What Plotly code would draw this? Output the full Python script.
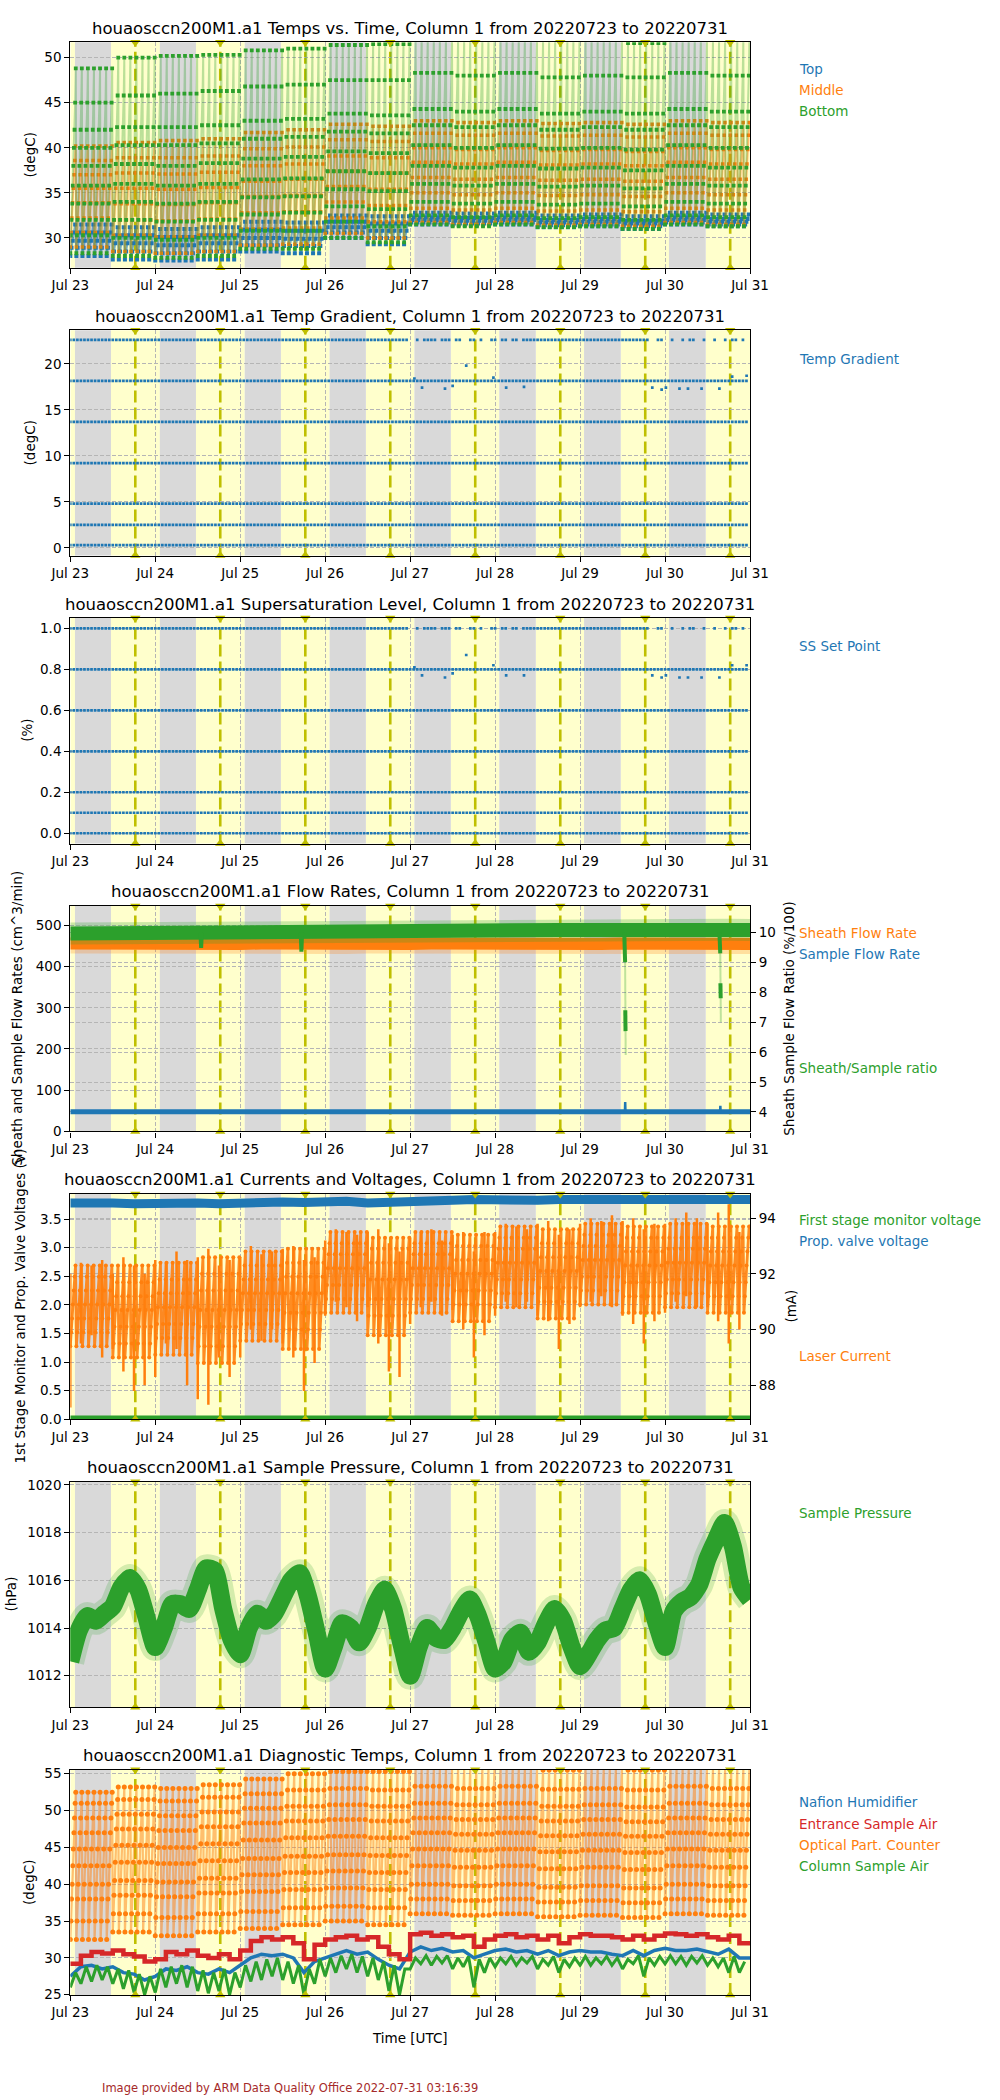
import numpy as np
import plotly.graph_objects as go

FONT = "DejaVu Sans"
W, H = 1000, 2100

# ---------------- shared time axis (days since 2022-07-23 00 UTC) ----------------
day_ticks = [0, 1, 2, 3, 4, 5, 6, 7, 8]
day_labels = ["Jul 23", "Jul 24", "Jul 25", "Jul 26", "Jul 27",
              "Jul 28", "Jul 29", "Jul 30", "Jul 31"]
night_start = [0.055, 1.054, 2.053, 3.052, 4.050, 5.049, 6.047, 7.046]
night_end = [0.479, 1.479, 2.479, 3.479, 4.479, 5.479, 6.479, 7.479]
solar_noon = [0.765, 1.765, 2.766, 3.766, 4.766, 5.767, 6.767, 7.767]

# ---------------- panel 1: column temps, plateau levels per half day ----------------
cycles_per_halfday = 7
p1_top_levels = [
    [28.0, 28.9, 29.7, 30.6, 31.5], [27.6, 28.5, 29.4, 30.3, 31.2],
    [27.5, 28.3, 29.2, 30.1, 31.0], [27.6, 28.5, 29.4, 30.3, 31.2],
    [28.5, 29.2, 30.0, 30.9, 31.8], [28.3, 29.1, 29.9, 30.8, 31.7],
    [30.0, 30.6, 31.2, 31.8, 32.5], [29.3, 30.0, 30.8, 31.6, 32.4],
    [31.5, 31.7, 32.0, 32.3, 32.8], [31.4, 31.6, 31.9, 32.2, 32.7],
    [31.5, 31.7, 32.0, 32.3, 32.8], [31.2, 31.4, 31.7, 32.0, 32.5],
    [31.3, 31.5, 31.8, 32.1, 32.6], [31.0, 31.3, 31.6, 31.9, 32.4],
    [31.5, 31.7, 32.0, 32.3, 32.8], [31.3, 31.5, 31.8, 32.1, 32.6],
]
p1_middle_levels = [
    [29.0, 30.6, 32.2, 33.9, 35.5, 37.0, 38.6, 40.2], [28.5, 30.3, 32.0, 33.8, 35.5, 37.2, 38.9, 40.6],
    [28.3, 30.1, 31.9, 33.7, 35.4, 37.1, 38.9, 40.8], [28.5, 30.3, 32.1, 33.9, 35.6, 37.3, 39.1, 41.0],
    [29.2, 31.0, 32.8, 34.6, 36.3, 38.0, 39.9, 41.7], [29.3, 31.1, 32.9, 34.7, 36.5, 38.2, 40.1, 42.0],
    [30.5, 32.2, 34.0, 35.7, 37.4, 39.1, 40.9, 42.6], [30.0, 31.8, 33.6, 35.4, 37.2, 38.9, 40.7, 42.4],
    [31.7, 33.3, 35.0, 36.7, 38.4, 40.0, 41.6, 43.0], [31.5, 33.1, 34.8, 36.5, 38.2, 39.8, 41.4, 42.8],
    [31.7, 33.3, 35.0, 36.7, 38.4, 40.0, 41.6, 43.0], [31.4, 33.0, 34.7, 36.4, 38.1, 39.7, 41.3, 42.7],
    [31.5, 33.1, 34.8, 36.5, 38.2, 39.8, 41.4, 42.8], [31.3, 32.9, 34.6, 36.3, 38.0, 39.6, 41.2, 42.6],
    [31.7, 33.3, 35.0, 36.7, 38.4, 40.0, 41.6, 43.0], [31.5, 33.1, 34.8, 36.5, 38.2, 39.8, 41.4, 42.8],
]
p1_bottom_levels = [
    [28.3, 30.3, 32.0, 33.8, 35.8, 38.0, 40.0, 42.0, 45.0, 48.8],
    [28.0, 30.0, 32.0, 34.0, 36.0, 38.2, 40.3, 42.3, 45.8, 50.0],
    [27.8, 29.8, 31.8, 33.8, 35.8, 38.0, 40.3, 42.3, 46.0, 50.2],
    [28.0, 30.0, 32.0, 34.0, 36.0, 38.3, 40.5, 42.5, 46.3, 50.3],
    [28.8, 30.8, 32.6, 34.5, 36.5, 38.8, 41.0, 43.0, 46.8, 50.8],
    [28.8, 30.8, 32.8, 34.6, 36.6, 39.0, 41.2, 43.2, 47.0, 51.0],
    [30.0, 31.8, 33.5, 35.4, 37.4, 39.6, 41.8, 43.8, 47.5, 51.4],
    [29.5, 31.3, 33.2, 35.2, 37.2, 39.4, 41.6, 43.6, 47.5, 51.5],
    [31.5, 32.5, 34.0, 36.0, 38.0, 40.3, 42.5, 44.3, 48.3, 52.0],
    [31.3, 32.3, 33.8, 35.8, 37.8, 40.0, 42.3, 44.0, 48.0, 52.0],
    [31.5, 32.5, 34.0, 36.0, 38.0, 40.3, 42.5, 44.3, 48.3, 52.0],
    [31.2, 32.2, 33.7, 35.7, 37.7, 39.9, 42.0, 43.8, 47.8, 51.8],
    [31.3, 32.3, 33.8, 35.8, 37.8, 40.0, 42.3, 44.0, 48.0, 51.8],
    [31.0, 32.0, 33.5, 35.5, 37.5, 39.8, 42.0, 43.8, 47.8, 51.6],
    [31.5, 32.5, 34.0, 36.0, 38.0, 40.3, 42.5, 44.3, 48.3, 52.0],
    [31.3, 32.3, 33.8, 35.8, 37.8, 40.0, 42.3, 44.0, 48.0, 51.8],
]

# ---------------- panel 2: temperature gradient set points ----------------
tg_levels = [0.3, 2.5, 4.8, 9.2, 13.7, 18.15, 22.6]
tg_outlier_days = [4.05, 4.14, 4.41, 4.50, 4.66, 4.98, 5.13, 5.34, 6.85, 6.96,
                   7.01, 7.17, 7.27, 7.43, 7.64, 7.79, 7.96]
tg_outlier_vals = [18.4, 17.4, 17.3, 17.6, 19.8, 18.5, 17.4, 17.5, 17.4, 17.2,
                   17.4, 17.3, 17.3, 17.3, 17.3, 18.6, 18.7]
top_row_gaps = [(4.00, 4.06), (4.12, 4.16), (4.30, 4.36), (4.46, 4.52), (4.62, 4.68),
                (4.76, 4.80), (4.86, 4.92), (5.02, 5.08), (5.16, 5.20), (5.28, 5.32),
                (6.82, 6.90), (6.96, 7.08), (7.12, 7.18), (7.24, 7.28), (7.36, 7.42),
                (7.50, 7.56), (7.62, 7.68), (7.72, 7.78), (7.84, 7.88), (7.92, 7.98)]

# ---------------- panel 3: supersaturation set points ----------------
ss_levels = [0.0, 0.1, 0.2, 0.4, 0.6, 0.8, 1.0]
ss_outlier_vals = [0.81, 0.77, 0.76, 0.78, 0.87, 0.82, 0.77, 0.77, 0.77, 0.76,
                   0.77, 0.76, 0.76, 0.76, 0.76, 0.82, 0.82]

# ---------------- panel 4: flow rates (every 6 h) ----------------
sheath_flow = [456, 455, 457, 455, 456, 455, 454, 456, 455, 456, 455, 455, 456, 455, 456, 455, 455,
               456, 455, 456, 455, 455, 456, 455, 456, 455, 456, 455, 455, 456, 455, 456, 455]
sample_flow = [47.5, 47.5, 47.6, 47.5, 47.4, 47.5, 47.6, 47.5, 47.5, 47.4, 47.5, 47.6, 47.5, 47.5, 47.5, 47.6, 47.5,
               47.5, 47.4, 47.5, 47.5, 47.6, 47.5, 47.5, 47.5, 47.4, 47.5, 47.5, 47.6, 47.5, 47.5, 47.5, 47.5]
flow_ratio = [9.96, 9.97, 9.98, 9.97, 9.98, 9.99, 9.98, 9.99, 10.0, 10.01, 10.02, 10.02, 10.03, 10.04, 10.03, 10.05,
              10.05, 10.06, 10.07, 10.08, 10.08, 10.08, 10.07, 10.08, 10.08, 10.09, 10.08, 10.09, 10.08, 10.09,
              10.08, 10.09, 10.08]
ratio_dip_days = [[1.532, 1.540, 1.548], [2.712, 2.720, 2.728],
                  [6.520, 6.526, 6.530], [6.532, 6.535], [7.640, 7.646, 7.650], [7.652, 7.655]]
ratio_dip_vals = [[9.98, 9.48, 9.98], [9.98, 9.35, 9.98],
                  [10.0, 9.5, 9.0], [7.4, 6.7], [10.0, 9.6, 9.3], [8.3, 7.8]]
ratio_faint_days = [[6.530, 6.532, 6.535, 6.537], [7.650, 7.652, 7.655, 7.657]]
ratio_faint_vals = [[9.0, 7.4, 6.7, 5.9], [9.3, 8.3, 7.8, 7.0]]
sample_spike_days = [[6.528, 6.531, 6.534], [7.648, 7.651, 7.654]]
sample_spike_vals = [[47.5, 71.0, 47.5], [47.5, 62.0, 47.5]]

# ---------------- panel 5: voltages (every 6 h) and laser current ----------------
valve_voltage = [3.78, 3.79, 3.78, 3.77, 3.78, 3.79, 3.78, 3.77, 3.79, 3.80, 3.80, 3.79, 3.80, 3.81, 3.78, 3.80,
                 3.82, 3.82, 3.83, 3.84, 3.83, 3.84, 3.83, 3.84, 3.84, 3.85, 3.84, 3.83, 3.84, 3.85, 3.84, 3.83, 3.84]
monitor_voltage = [0.03, 0.03, 0.04, 0.03, 0.03, 0.03, 0.04, 0.03, 0.03, 0.03, 0.03, 0.04, 0.03, 0.03, 0.03, 0.03,
                   0.04, 0.03, 0.03, 0.03, 0.04, 0.03, 0.03, 0.03, 0.03, 0.04, 0.03, 0.03, 0.03, 0.03, 0.04, 0.03, 0.03]
laser_levels = [
    [89.4, 89.9, 90.4, 90.9, 91.4, 91.9, 92.3], [89.0, 89.5, 90.1, 90.7, 91.2, 91.7, 92.3],
    [89.1, 89.7, 90.2, 90.8, 91.3, 91.8, 92.4], [88.8, 89.4, 90.1, 90.7, 91.4, 92.0, 92.6],
    [89.6, 90.2, 90.7, 91.3, 91.8, 92.3, 92.8], [89.3, 90.0, 90.6, 91.3, 91.9, 92.4, 92.9],
    [90.6, 91.1, 91.6, 92.2, 92.7, 93.1, 93.5], [89.8, 90.5, 91.1, 91.8, 92.4, 92.9, 93.3],
    [90.6, 91.1, 91.6, 92.2, 92.7, 93.1, 93.5], [90.3, 90.9, 91.4, 92.0, 92.5, 93.0, 93.4],
    [90.8, 91.3, 91.8, 92.4, 92.9, 93.3, 93.7], [90.4, 91.0, 91.5, 92.1, 92.6, 93.1, 93.6],
    [90.9, 91.4, 91.9, 92.5, 93.0, 93.4, 93.8], [90.6, 91.2, 91.7, 92.3, 92.8, 93.3, 93.7],
    [90.8, 91.3, 91.8, 92.4, 92.9, 93.3, 93.8], [90.6, 91.2, 91.7, 92.3, 92.8, 93.3, 93.7],
]
laser_low = [87.2, 89.5, 89.8, 89.0, 89.3, 88.5, 87.8, 88.0,
             88.3, 89.5, 89.3, 88.0, 87.5, 87.3, 89.0, 88.3,
             89.0, 90.0, 89.6, 90.0, 89.5, 89.0, 87.8, 88.8,
             90.5, 91.0, 90.8, 90.3, 90.8, 89.5, 88.5, 88.3,
             90.2, 90.8, 91.0, 90.5, 90.7, 90.0, 89.0, 89.8,
             90.5, 91.0, 90.8, 91.0, 90.5, 90.3, 89.3, 90.2,
             90.8, 91.0, 91.2, 90.8, 90.5, 90.2, 89.5, 90.3,
             90.6, 91.0, 91.2, 90.8, 90.8, 90.3, 89.5, 90.0]
laser_high = [92.0, 92.4, 92.3, 92.5, 92.0, 92.6, 92.3, 92.0,
              92.5, 92.4, 92.8, 92.5, 92.6, 92.9, 92.3, 92.5,
              92.6, 93.0, 92.7, 92.8, 92.9, 93.0, 92.5, 92.6,
              93.2, 93.6, 93.5, 93.4, 93.5, 93.6, 93.1, 92.8,
              93.3, 93.5, 93.6, 93.2, 93.4, 93.5, 92.8, 93.5,
              93.5, 93.8, 93.7, 93.6, 93.8, 93.9, 93.4, 93.6,
              93.8, 94.0, 93.9, 94.1, 93.9, 94.0, 93.6, 93.8,
              93.8, 94.0, 94.2, 94.0, 93.8, 94.2, 94.5, 93.5]

# ---------------- panel 6: sample pressure (every 0.1 day) ----------------
sample_pressure = [1012.6, 1013.9, 1014.5, 1014.3, 1014.6, 1014.9, 1015.7, 1016.1, 1015.6, 1014.4,
                   1013.2, 1014.0, 1015.0, 1015.0, 1014.8, 1015.6, 1016.5, 1016.4, 1014.8, 1013.5,
                   1012.9, 1014.0, 1014.6, 1014.3, 1014.6, 1015.3, 1016.0, 1016.3, 1015.3, 1013.8,
                   1012.3, 1013.2, 1014.2, 1014.0, 1013.4, 1014.0, 1015.0, 1015.6, 1014.8, 1013.3,
                   1012.0, 1013.2, 1014.0, 1013.6, 1013.5, 1014.0, 1014.7, 1015.2, 1014.5, 1013.4,
                   1012.3, 1012.6, 1013.5, 1013.8, 1013.0, 1013.4, 1014.2, 1014.8, 1014.3, 1013.2,
                   1012.4, 1012.9, 1013.5, 1013.9, 1014.0, 1014.8, 1015.6, 1016.0, 1015.4, 1014.2,
                   1013.2, 1014.7, 1015.1, 1015.3, 1015.8, 1016.9, 1017.7, 1018.4, 1017.4, 1015.7,
                   1015.2]

# ---------------- panel 7: diagnostic temps ----------------
opc_levels = [
    [32.5, 35.0, 38.0, 40.0, 42.5, 44.8, 47.0, 49.0, 51.0, 52.5],
    [33.5, 36.0, 38.5, 40.5, 43.0, 45.3, 47.5, 49.5, 51.5, 53.2],
    [33.0, 35.5, 38.3, 40.3, 42.8, 45.0, 47.3, 49.3, 51.3, 53.0],
    [33.5, 36.0, 38.8, 40.8, 43.2, 45.5, 47.8, 49.8, 51.8, 53.5],
    [34.0, 36.3, 39.0, 41.3, 43.5, 46.0, 48.3, 50.3, 52.3, 54.3],
    [34.5, 36.8, 39.3, 41.6, 43.8, 46.3, 48.6, 50.6, 52.8, 55.0],
    [35.0, 37.0, 39.5, 41.8, 44.0, 46.5, 48.8, 50.8, 53.0, 55.3],
    [34.5, 36.8, 39.3, 41.6, 43.9, 46.3, 48.6, 50.6, 52.8, 55.3],
    [36.0, 38.0, 40.0, 42.5, 44.8, 47.0, 49.0, 51.0, 53.3, 55.6],
    [35.8, 37.8, 39.8, 42.3, 44.6, 46.8, 48.8, 50.8, 53.0, 55.6],
    [36.0, 38.0, 40.0, 42.5, 44.8, 47.0, 49.0, 51.0, 53.3, 55.6],
    [35.6, 37.6, 39.6, 42.1, 44.4, 46.6, 48.6, 50.6, 52.9, 55.5],
    [35.8, 37.8, 39.8, 42.3, 44.6, 46.8, 48.8, 50.8, 53.0, 55.6],
    [35.5, 37.5, 39.5, 42.0, 44.3, 46.5, 48.5, 50.5, 52.8, 55.5],
    [36.0, 38.0, 40.0, 42.5, 44.8, 47.0, 49.0, 51.0, 53.3, 55.6],
    [35.8, 37.8, 39.8, 42.3, 44.6, 46.8, 48.8, 50.8, 53.0, 55.6],
]
entrance_air = [29.2, 30.3, 30.8, 30.6, 31.0, 30.5, 30.2, 29.5,
                29.8, 30.8, 30.5, 31.0, 30.3, 30.0, 30.5, 29.8,
                31.0, 32.3, 32.8, 32.5, 32.8, 32.0, 29.8, 31.8,
                32.5, 32.8, 33.0, 32.5, 32.8, 31.5, 30.5, 29.8,
                33.2, 33.4, 33.0, 33.2, 32.8, 33.0, 31.5, 32.5,
                33.0, 33.2, 32.8, 33.0, 32.5, 33.0, 32.0, 32.8,
                33.2, 33.0, 33.0, 32.8, 32.5, 33.0, 32.5, 33.0,
                33.3, 33.2, 33.0, 33.2, 32.8, 32.5, 33.0, 32.0, 32.0]
nafion = [27.5, 28.8, 29.0, 28.5, 28.8, 28.0, 27.8, 27.0,
          27.5, 28.5, 28.3, 28.8, 28.0, 27.8, 28.5, 28.0,
          29.0, 30.0, 30.5, 30.3, 30.5, 30.0, 28.0, 29.5,
          30.0, 30.5, 31.0, 30.5, 30.8, 29.8, 29.0, 28.5,
          30.8, 31.5, 31.0, 31.3, 30.8, 31.0, 30.0, 30.5,
          31.0, 31.2, 30.8, 31.0, 30.5, 31.0, 30.3, 30.8,
          31.0, 30.8, 30.8, 30.5, 30.3, 31.0, 30.3, 31.0,
          31.3, 31.0, 31.0, 31.2, 30.8, 30.5, 31.2, 30.0, 30.0]
column_air_low = [26.0, 26.5, 26.8, 27.0, 26.5, 25.8, 25.3, 25.0,
                  25.3, 26.0, 26.5, 26.0, 25.5, 25.2, 25.5, 25.0,
                  26.0, 26.8, 27.0, 27.5, 27.0, 26.5, 25.0, 26.5,
                  27.5, 28.0, 28.5, 28.0, 27.5, 27.0, 25.5, 25.0,
                  28.5, 29.2, 29.0, 29.3, 28.5, 28.8, 26.0, 28.0,
                  28.8, 29.2, 29.0, 29.3, 28.5, 29.0, 28.0, 28.8,
                  29.0, 29.0, 29.2, 29.0, 28.5, 29.2, 27.5, 29.0,
                  29.2, 29.2, 29.0, 29.3, 29.0, 28.8, 28.0, 28.0]
column_air_high = [28.0, 28.8, 29.0, 28.8, 28.5, 28.3, 27.8, 27.5,
                   28.5, 28.8, 29.0, 28.8, 28.3, 28.0, 28.5, 28.0,
                   29.0, 29.5, 29.8, 30.0, 29.5, 29.0, 28.5, 29.8,
                   30.0, 30.3, 30.5, 30.2, 30.0, 29.5, 29.0, 28.5,
                   30.0, 30.3, 30.2, 30.3, 30.0, 30.2, 29.8, 30.0,
                   30.0, 30.2, 30.0, 30.2, 29.8, 30.2, 29.8, 30.0,
                   30.2, 30.0, 30.2, 30.0, 29.8, 30.3, 30.0, 30.2,
                   30.3, 30.2, 30.2, 30.3, 30.0, 30.0, 30.2, 29.5]

# ---------------- colours ----------------
BLUE, ORANGE, GREEN, RED = "#1f77b4", "#ff7f0e", "#2ca02c", "#d62728"
YEL = "rgb(191,191,0)"

# time grids (axis positions)
t6h = np.arange(len(sheath_flow)) * 0.25
t3h = np.arange(len(entrance_air)) * 0.125
slots3h = np.arange(len(laser_low)) * 0.125
t01 = np.arange(len(sample_pressure)) * 0.1
row_days = np.arange(0, 8, 1 / 24)

# ---------------- geometry ----------------
X0, X1 = 70.3, 750.0
TOP0, STEP, PH = 42.3, 287.9, 225.4
yranges = {1: [26.7, 51.7], 2: [-0.84, 23.65], 3: [-0.05, 1.05], 4: [0, 547],
           5: [0, 3.94], 6: [1010.68, 1020.13], 7: [24.95, 55.55],
           8: [3.35, 10.88], 9: [86.78, 94.87]}


def py(px):
    return 1 - px / H


def ptop(i):
    return TOP0 + STEP * (i - 1)


def xn(i):
    return "x" if i == 1 else f"x{i}"


def yn(i):
    return "y" if i == 1 else f"y{i}"


fig = go.Figure()


def sawtooth(levels_by_halfday):
    xs, ys = [], []
    for h, lv in enumerate(levels_by_halfday):
        n = len(lv)
        for c in range(cycles_per_halfday):
            t0 = 0.5 * h + c / (2 * cycles_per_halfday)
            for k, v in enumerate(lv):
                xs.append(t0 + k / (2 * cycles_per_halfday * n))
                ys.append(v)
    return xs, ys


def zigzag(times, lows, highs, half):
    xs, ys = [], []
    for t, lo, hi in zip(times, lows, highs):
        xs += [t, t + half]
        ys += [lo, hi]
    return xs, ys


def spikes(times, lows, highs):
    xs, ys = [], []
    for t, lo, hi in zip(times, lows, highs):
        xs += [t, t, None]
        ys += [lo, hi, None]
    return xs, ys


# ---------- Panel 1 ----------
for levels, col, rgba, ms in [(p1_top_levels, BLUE, "rgba(31,119,180,0.6)", 4),
                              (p1_middle_levels, ORANGE, "rgba(255,127,14,0.5)", 3.5),
                              (p1_bottom_levels, GREEN, "rgba(44,160,44,0.32)", 3.8)]:
    xs, ys = sawtooth(levels)
    fig.add_trace(go.Scatter(x=xs, y=ys, mode="lines+markers", xaxis="x", yaxis="y",
                             line=dict(color=rgba, width=2),
                             marker=dict(color=col, size=ms, symbol="square", line=dict(width=0))))

# ---------- Panel 2 & 3 ----------
for pi, levels, ov in [(2, tg_levels, tg_outlier_vals), (3, ss_levels, ss_outlier_vals)]:
    for j, lv in enumerate(levels):
        if j == len(levels) - 1:
            xs = [t for t in row_days if not any(a <= t < b for a, b in top_row_gaps)]
        else:
            xs = list(row_days)
        fig.add_trace(go.Scatter(x=xs, y=[lv] * len(xs), mode="markers", xaxis=xn(pi), yaxis=yn(pi),
                                 marker=dict(color=BLUE, size=2.7, symbol="square", line=dict(width=0))))
    fig.add_trace(go.Scatter(x=tg_outlier_days, y=ov, mode="markers", xaxis=xn(pi), yaxis=yn(pi),
                             marker=dict(color=BLUE, size=2.7, symbol="square", line=dict(width=0))))

# ---------- Panel 4 ----------
fig.add_trace(go.Scatter(x=t6h, y=sheath_flow, mode="lines", xaxis="x4", yaxis="y4",
                         line=dict(color="rgba(255,127,14,0.25)", width=20)))
fig.add_trace(go.Scatter(x=t6h, y=sheath_flow, mode="lines", xaxis="x4", yaxis="y4",
                         line=dict(color=ORANGE, width=12)))
fig.add_trace(go.Scatter(x=t6h, y=sample_flow, mode="lines", xaxis="x4", yaxis="y4",
                         line=dict(color=BLUE, width=5)))
for dx, dy in zip(sample_spike_days, sample_spike_vals):
    fig.add_trace(go.Scatter(x=dx, y=dy, mode="lines", xaxis="x4", yaxis="y4",
                             line=dict(color=BLUE, width=2.5)))
fig.add_trace(go.Scatter(x=t6h, y=flow_ratio, mode="lines", xaxis="x4", yaxis="y8",
                         line=dict(color="rgba(44,160,44,0.25)", width=22)))
fig.add_trace(go.Scatter(x=t6h, y=flow_ratio, mode="lines", xaxis="x4", yaxis="y8",
                         line=dict(color=GREEN, width=14)))
for dx, dy in zip(ratio_faint_days, ratio_faint_vals):
    fig.add_trace(go.Scatter(x=dx, y=dy, mode="lines", xaxis="x4", yaxis="y8",
                             line=dict(color="rgba(44,160,44,0.3)", width=2)))
for dx, dy in zip(ratio_dip_days, ratio_dip_vals):
    fig.add_trace(go.Scatter(x=dx, y=dy, mode="lines", xaxis="x4", yaxis="y8",
                             line=dict(color=GREEN, width=4)))

# ---------- Panel 5 ----------
fig.add_trace(go.Scatter(x=t6h, y=valve_voltage, mode="lines", xaxis="x5", yaxis="y5",
                         line=dict(color=BLUE, width=9)))
fig.add_trace(go.Scatter(x=t6h, y=monitor_voltage, mode="lines", xaxis="x5", yaxis="y5",
                         line=dict(color=GREEN, width=4)))
sx, sy = spikes(slots3h, laser_low, laser_high)
fig.add_trace(go.Scatter(x=sx, y=sy, mode="lines", xaxis="x5", yaxis="y9",
                         line=dict(color=ORANGE, width=2.5)))
lx, ly = sawtooth(laser_levels)
fig.add_trace(go.Scatter(x=lx, y=ly, mode="lines+markers", xaxis="x5", yaxis="y9",
                         line=dict(color="rgba(255,127,14,0.9)", width=2.8),
                         marker=dict(color=ORANGE, size=4, line=dict(width=0))))

# ---------- Panel 6 ----------
fig.add_trace(go.Scatter(x=t01, y=sample_pressure, mode="lines", xaxis="x6", yaxis="y6",
                         line=dict(color="rgba(44,160,44,0.2)", width=28, shape="spline", smoothing=0.6)))
fig.add_trace(go.Scatter(x=t01, y=sample_pressure, mode="lines", xaxis="x6", yaxis="y6",
                         line=dict(color=GREEN, width=18, shape="spline", smoothing=0.6)))

# ---------- Panel 7 ----------
fig.add_trace(go.Scatter(x=t3h, y=nafion, mode="lines", xaxis="x7", yaxis="y7",
                         line=dict(color=BLUE, width=3.5)))
fig.add_trace(go.Scatter(x=t3h, y=entrance_air, mode="lines", xaxis="x7", yaxis="y7",
                         line=dict(color=RED, width=4.5, shape="hv")))
ox, oy = sawtooth(opc_levels)
fig.add_trace(go.Scatter(x=ox, y=oy, mode="lines+markers", xaxis="x7", yaxis="y7",
                         line=dict(color="rgba(255,127,14,0.5)", width=2.2),
                         marker=dict(color=ORANGE, size=5, line=dict(width=0))))
gx, gy = zigzag(slots3h, column_air_low, column_air_high, 0.0625)
fig.add_trace(go.Scatter(x=gx, y=gy, mode="lines", xaxis="x7", yaxis="y7",
                         line=dict(color=GREEN, width=3)))

# ---------- day/night shading, solar noon ----------
day_spans = [(0.0, night_start[0])] + [(night_end[i], night_start[i + 1]) for i in range(7)] + [(night_end[7], 8.0)]
for i in range(1, 8):
    yd = f"{yn(i)} domain"
    for a, b in day_spans:
        fig.add_shape(type="rect", xref=xn(i), yref=yd, x0=a, x1=b, y0=0, y1=1,
                      fillcolor="#FFFFCC", line_width=0, layer="below")
    for a, b in zip(night_start, night_end):
        fig.add_shape(type="rect", xref=xn(i), yref=yd, x0=a, x1=b, y0=0, y1=1,
                      fillcolor="#D9D9D9", line_width=0, layer="below")
    for t in solar_noon:
        fig.add_shape(type="line", xref=xn(i), yref=yd, x0=t, x1=t, y0=0, y1=1,
                      line=dict(color=YEL, width=2.6, dash="12px,5px"), layer="below")
    lo, hi = yranges[i]
    fig.add_trace(go.Scatter(x=solar_noon, y=[hi] * len(solar_noon), mode="markers",
                             xaxis=xn(i), yaxis=yn(i), cliponaxis=False,
                             marker=dict(color=YEL, size=9, symbol="triangle-down", line=dict(width=0))))
    fig.add_trace(go.Scatter(x=solar_noon, y=[lo] * len(solar_noon), mode="markers",
                             xaxis=xn(i), yaxis=yn(i), cliponaxis=False,
                             marker=dict(color=YEL, size=9, symbol="triangle-up", line=dict(width=0))))

# ---------- axes ----------
tickfont = dict(family=FONT, size=13.5, color="black")
grid = dict(showgrid=True, gridcolor="#b5b5b5", griddash="4px,2px", gridwidth=0.8)
ytick_cfg = {1: dict(tickvals=[30, 35, 40, 45, 50]),
             2: dict(tickvals=[0, 5, 10, 15, 20]),
             3: dict(tickvals=[0, 0.2, 0.4, 0.6, 0.8, 1.0], tickformat=".1f"),
             4: dict(tickvals=[0, 100, 200, 300, 400, 500]),
             5: dict(tickvals=[0, 0.5, 1.0, 1.5, 2.0, 2.5, 3.0, 3.5], tickformat=".1f"),
             6: dict(tickvals=[1012, 1014, 1016, 1018, 1020]),
             7: dict(tickvals=[25, 30, 35, 40, 45, 50, 55])}
layout_axes = {}
for i in range(1, 8):
    top = ptop(i)
    bot = top + PH
    xkey = "xaxis" if i == 1 else f"xaxis{i}"
    ykey = "yaxis" if i == 1 else f"yaxis{i}"
    layout_axes[xkey] = dict(domain=[X0 / W, X1 / W], anchor=yn(i), range=[0, 8], automargin=False,
                             tickmode="array", tickvals=day_ticks, ticktext=day_labels,
                             showline=True, linecolor="black", linewidth=1.2, mirror=True,
                             ticks="outside", ticklen=5, tickcolor="black", zeroline=False,
                             tickfont=tickfont, **grid)
    layout_axes[ykey] = dict(domain=[py(bot), py(top)], anchor=xn(i), range=yranges[i], automargin=False,
                             tickmode="array", showline=True, linecolor="black", linewidth=1.2,
                             mirror=True, ticks="outside", ticklen=5, tickcolor="black",
                             zeroline=False, tickfont=tickfont, **grid, **ytick_cfg[i])
layout_axes["yaxis8"] = dict(overlaying="y4", side="right", anchor="x4", range=yranges[8], automargin=False,
                             tickmode="array", tickvals=[4, 5, 6, 7, 8, 9, 10], ticks="outside",
                             ticklen=5, tickcolor="black", showline=False, zeroline=False,
                             tickfont=tickfont, **grid)
layout_axes["yaxis9"] = dict(overlaying="y5", side="right", anchor="x5", range=yranges[9], automargin=False,
                             tickmode="array", tickvals=[88, 90, 92, 94], ticks="outside",
                             ticklen=5, tickcolor="black", showline=False, zeroline=False,
                             tickfont=tickfont, **grid)

fig.update_layout(width=W, height=H, margin=dict(l=0, r=0, t=0, b=0, autoexpand=False),
                  paper_bgcolor="white", plot_bgcolor="white", showlegend=False,
                  font=dict(family=FONT, size=13.5, color="black"), **layout_axes)

# ---------- text ----------
titles = ["Temps vs. Time", "Temp Gradient", "Supersaturation Level", "Flow Rates",
          "Currents and Voltages", "Sample Pressure", "Diagnostic Temps"]
ann = []
xc = (X0 + X1) / 2 / W
for i, t in enumerate(titles, start=1):
    ann.append(dict(text=f"houaosccn200M1.a1 {t}, Column 1 from 20220723 to 20220731",
                    x=xc, y=py(ptop(i) - 14), xref="paper", yref="paper", showarrow=False,
                    xanchor="center", yanchor="middle", font=dict(family=FONT, size=16.5, color="black")))

ylabels = [(1, "(degC)", 29.5), (2, "(degC)", 29.5), (3, "(%)", 27), (4, "Sheath and Sample Flow Rates (cm^3/min)", 17),
           (5, "1st Stage Monitor and Prop. Valve Voltages (V)", 20), (6, "(hPa)", 11), (7, "(degC)", 29.5)]
for i, t, xpx in ylabels:
    ann.append(dict(text=t, x=xpx / W, y=py(ptop(i) + PH / 2), xref="paper", yref="paper", showarrow=False,
                    textangle=-90, xanchor="center", yanchor="middle", font=dict(family=FONT, size=13.5)))
for i, t, xpx in [(4, "Sheath Sample Flow Ratio (%/100)", 789), (5, "(mA)", 791)]:
    ann.append(dict(text=t, x=xpx / W, y=py(ptop(i) + PH / 2), xref="paper", yref="paper", showarrow=False,
                    textangle=-90, xanchor="center", yanchor="middle", font=dict(family=FONT, size=13.5)))

legend_items = [("Top", BLUE, 68.5), ("Middle", ORANGE, 90), ("Bottom", GREEN, 111.5),
                ("Temp Gradient", BLUE, 359), ("SS Set Point", BLUE, 646.5),
                ("Sheath Flow Rate", ORANGE, 933), ("Sample Flow Rate", BLUE, 954),
                ("Sheath/Sample ratio", GREEN, 1068),
                ("First stage monitor voltage", GREEN, 1220), ("Prop. valve voltage", BLUE, 1241),
                ("Laser Current", ORANGE, 1356), ("Sample Pressure", GREEN, 1513),
                ("Nafion Humidifier", BLUE, 1802), ("Entrance Sample Air", RED, 1824),
                ("Optical Part. Counter", ORANGE, 1845), ("Column Sample Air", GREEN, 1866)]
for t, c, ypx in legend_items:
    ann.append(dict(text=t, x=797 / W, y=py(ypx), xref="paper", yref="paper", showarrow=False,
                    xanchor="left", yanchor="middle", font=dict(family=FONT, size=13.5, color=c)))

ann.append(dict(text="Time [UTC]", x=xc, y=py(2038), xref="paper", yref="paper", showarrow=False,
                xanchor="center", yanchor="middle", font=dict(family=FONT, size=13.5)))
ann.append(dict(text="Image provided by ARM Data Quality Office 2022-07-31 03:16:39", x=100 / W, y=py(2088),
                xref="paper", yref="paper", showarrow=False, xanchor="left", yanchor="middle",
                font=dict(family=FONT, size=11.5, color="#A52A2A")))
fig.update_layout(annotations=ann)

fig.write_html("out.html", config={"displayModeBar": False},
               post_script="document.body.style.margin='0px';")
